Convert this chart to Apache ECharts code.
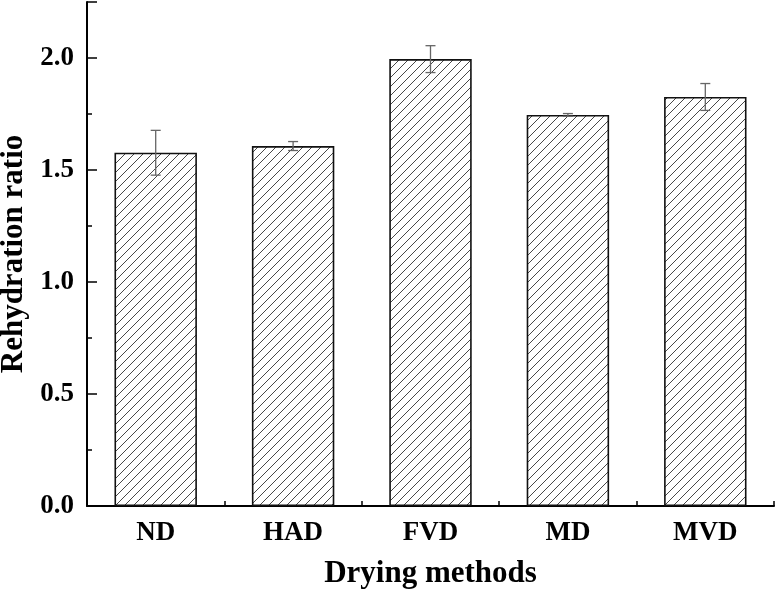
<!DOCTYPE html>
<html>
<head>
<meta charset="utf-8">
<script src="https://cdn.jsdelivr.net/npm/echarts@6/dist/echarts.min.js"></script>
<style>html,body{margin:0;padding:0;background:#fff}#c{width:776px;height:591px}</style>
</head>
<body>
<div id="c"></div>
<script>
var categories = ['ND', 'HAD', 'FVD', 'MD', 'MVD'];
var values = [1.577, 1.607, 1.995, 1.746, 1.826];
var errors = [0.100, 0.020, 0.060, 0.006, 0.060];
var yTicks = [0, 0.5, 1.0, 1.5, 2.0];

var tile = document.createElement('canvas');
tile.width = 9; tile.height = 9;
var g = tile.getContext('2d');
g.fillStyle = '#fff'; g.fillRect(0, 0, 9, 9);
g.strokeStyle = '#333'; g.lineWidth = 0.9;
g.beginPath();
g.moveTo(-1, 10); g.lineTo(10, -1);
g.moveTo(-1, 1); g.lineTo(1, -1);
g.moveTo(8, 10); g.lineTo(10, 8);
g.stroke();

var font = '"Liberation Serif", "Times New Roman", serif';
var chart = echarts.init(document.getElementById('c'));
chart.setOption({
  animation: false,
  backgroundColor: '#fff',
  grid: { left: 87, right: 2, top: 2, bottom: 85, containLabel: false, outerBoundsMode: 'none' },
  xAxis: [{
    type: 'category', data: categories,
    name: 'Drying methods', nameLocation: 'middle', nameGap: 52,
    nameTextStyle: { fontFamily: font, fontWeight: 'bold', fontSize: 31, color: '#000' },
    axisLine: { lineStyle: { color: '#000', width: 2 } },
    axisTick: { show: true, inside: true, length: 10, alignWithLabel: true, lineStyle: { color: '#000', width: 1.5 } },
    axisLabel: { fontFamily: font, fontWeight: 'bold', fontSize: 27, color: '#000', margin: 14 }
  }, {
    type: 'category', data: categories, position: 'bottom',
    axisLine: { show: false },
    axisTick: { show: true, inside: true, length: 5, lineStyle: { color: '#000', width: 1.5 } },
    axisLabel: { show: false }
  }],
  yAxis: {
    type: 'value', min: 0, max: 2.25, interval: 0.5,
    name: 'Rehydration ratio', nameLocation: 'middle', nameGap: 57, nameRotate: 90,
    nameTextStyle: { fontFamily: font, fontWeight: 'bold', fontSize: 31, color: '#000', padding: [0, 0, 0, 0] },
    axisLine: { show: true, lineStyle: { color: '#000', width: 2 } },
    axisTick: { show: true, inside: true, length: 10, lineStyle: { color: '#000', width: 1.5 } },
    minorTick: { show: true, splitNumber: 2, length: 5, lineStyle: { color: '#000', width: 1.5 } },
    splitLine: { show: false },
    axisLabel: {
      fontFamily: font, fontWeight: 'bold', fontSize: 27, color: '#000', margin: 13,
      showMaxLabel: false,
      formatter: function (v) { return yTicks.indexOf(v) >= 0 ? v.toFixed(1) : ''; }
    }
  },
  series: [{
    type: 'bar', data: values, barWidth: '60%',
    itemStyle: { color: { image: tile, repeat: 'repeat' }, borderColor: '#111', borderWidth: 1.6 }
  }, {
    type: 'custom',
    data: values.map(function (v, i) { return [i, v - errors[i], v + errors[i]]; }),
    z: 10,
    renderItem: function (params, api) {
      var lo = api.coord([api.value(0), api.value(1)]);
      var hi = api.coord([api.value(0), api.value(2)]);
      var w = 5;
      var st = { stroke: '#666', lineWidth: 1.3 };
      return { type: 'group', children: [
        { type: 'line', shape: { x1: hi[0], y1: hi[1], x2: lo[0], y2: lo[1] }, style: st },
        { type: 'line', shape: { x1: hi[0] - w, y1: hi[1], x2: hi[0] + w, y2: hi[1] }, style: st },
        { type: 'line', shape: { x1: lo[0] - w, y1: lo[1], x2: lo[0] + w, y2: lo[1] }, style: st }
      ] };
    }
  }]
});
</script>
</body>
</html>
